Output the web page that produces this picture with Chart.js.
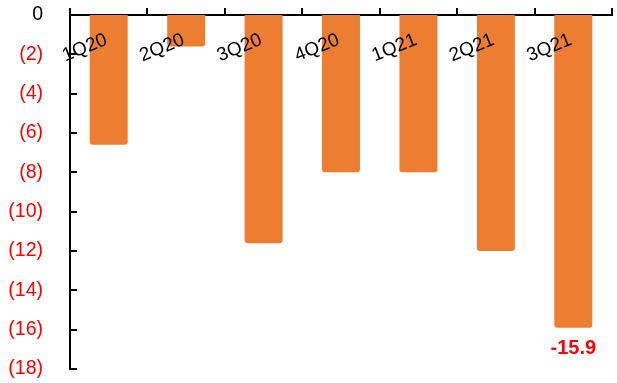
<!DOCTYPE html>
<html>
<head>
<meta charset="utf-8">
<script src="https://cdn.jsdelivr.net/npm/chart.js@4/dist/chart.umd.min.js"></script>
<style>
html,body{margin:0;padding:0;background:#fff;}
#wrap{width:617px;height:383px;}
</style>
</head>
<body>
<div id="wrap"><canvas id="chart" width="617" height="383"></canvas></div>
<script>
// quarterly values
let quarters = ['1Q20','2Q20','3Q20','4Q20','1Q21','2Q21','3Q21'];
let values = [-6.6, -1.6, -11.6, -8.0, -8.0, -12.0, -15.9];
let shownLabels = ['', '', '', '', '', '', '-15.9'];
let yTicks = [0, -2, -4, -6, -8, -10, -12, -14, -16, -18];

const FONT = 'Liberation Sans, Arial, sans-serif';

// category names sit inside the plot, tilted, just under the top axis
const quarterLabels = {
    id: 'quarterLabels',
    afterDatasetsDraw(chart){
        let ctx = chart.ctx, x = chart.scales.x, y = chart.scales.y;
        ctx.save();
        ctx.fillStyle = '#000';
        ctx.font = '19px ' + FONT;
        ctx.textAlign = 'center';
        ctx.textBaseline = 'middle';
        quarters.forEach((q,i)=>{
            ctx.save();
            ctx.translate(x.getPixelForValue(i) - 24, y.top + 33);
            ctx.rotate(-22*Math.PI/180);
            ctx.fillText(q, 0, 0);
            ctx.restore();
        });
        // inward tick marks on the y axis
        ctx.strokeStyle = '#000';
        ctx.lineWidth = 2;
        yTicks.forEach(v=>{
            let py = Math.round(y.getPixelForValue(v));
            ctx.beginPath();
            ctx.moveTo(x.left, py);
            ctx.lineTo(x.left + 7, py);
            ctx.stroke();
        });
        // value label under the last bar
        ctx.fillStyle = '#ff0000';
        ctx.font = 'bold 20px ' + FONT;
        ctx.textBaseline = 'top';
        shownLabels.forEach((t,i)=>{
            if(!t) return;
            ctx.fillText(t, x.getPixelForValue(i), y.getPixelForValue(values[i]) + 11);
        });
        ctx.restore();
    }
};

new Chart(document.getElementById('chart'),{
    type:'bar',
    data:{labels:quarters,datasets:[{data:values,backgroundColor:'#ED7D31',borderRadius:3,barPercentage:0.49,categoryPercentage:1}]},
    options:{
        responsive:false,
        animation:false,
        layout:{autoPadding:false,padding:{top:0,right:5,bottom:14,left:0}},
        plugins:{legend:{display:false},tooltip:{enabled:false}},
        scales:{
            x:{
                position:'top',
                offset:true,
                grid:{offset:true,drawOnChartArea:false,color:'#000',lineWidth:2,tickLength:7},
                border:{color:'#000',width:2},
                ticks:{display:false},
                afterFit(s){s.height=15;}
            },
            y:{
                min:yTicks[yTicks.length-1],max:yTicks[0],
                grid:{display:false},
                border:{color:'#000',width:2},
                ticks:{
                    stepSize:2,
                    padding:19,
                    font:{family:FONT,size:19.5},
                    color:c=>c.tick.value===0?'#000':'#ff0000',
                    callback:v=>v===0?'0':'('+(-v)+')'
                },
                afterFit(s){s.width=70;s.paddingTop=0;s.paddingBottom=0;}
            }
        }
    },
    plugins:[quarterLabels]
});
</script>
</body>
</html>
